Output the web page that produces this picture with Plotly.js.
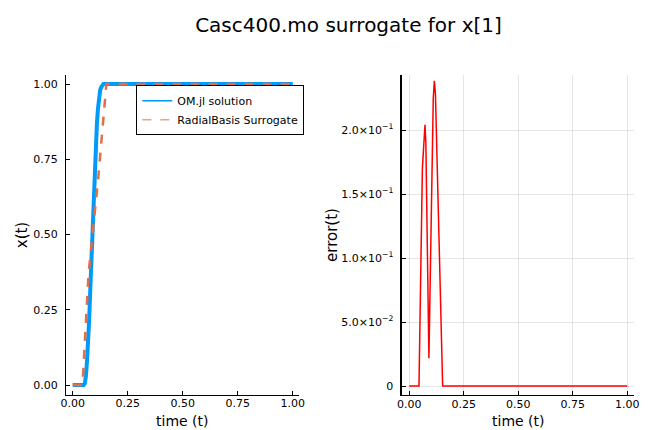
<!DOCTYPE html>
<html>
<head>
<meta charset="utf-8">
<script src="https://cdn.plot.ly/plotly-3.0.1.min.js"></script>
<style>html,body{margin:0;padding:0;background:#fff;}#chart{width:649px;height:430px;}</style>
</head>
<body>
<div id="chart"></div>
<script>
// OM.jl solution x(t)
const solT = [0, 0.05, 0.055, 0.06, 0.065, 0.07, 0.075, 0.08, 0.085, 0.09, 0.095, 0.1, 0.105, 0.11, 0.115, 0.12, 0.125, 0.13, 0.14, 0.2, 0.5, 1.0];
const solX = [0, 0, 0.005, 0.03, 0.08, 0.14, 0.22, 0.32, 0.42, 0.52, 0.62, 0.71, 0.80, 0.87, 0.92, 0.96, 0.98, 0.99, 1.0, 1.0, 1.0, 1.0];
// RadialBasis surrogate
const surT = [0, 0.0445, 0.072, 0.09, 0.115, 0.153, 0.3, 0.6, 1.0];
const surX = [0, 0, 0.37, 0.50, 0.68, 1.0, 1.0, 1.0, 1.0];
// error(t)
const errT = [0, 0.0445, 0.06, 0.068, 0.072, 0.076, 0.09, 0.11, 0.115, 0.12, 0.153, 0.3, 0.6, 1.0];
const errV = [0, 0, 0.17, 0.200, 0.204, 0.19, 0.0216, 0.225, 0.2385, 0.228, 0, 0, 0, 0];

const seriesNames = ["OM.jl solution", "RadialBasis Surrogate"];
const xTitle = "time (t)";
const xTicks = [0, 0.25, 0.5, 0.75, 1.0];
const xTickText = ["0.00", "0.25", "0.50", "0.75", "1.00"];
const yTicksL = [0, 0.25, 0.5, 0.75, 1.0];
const yTickTextL = ["0.00", "0.25", "0.50", "0.75", "1.00"];
const yTicksR = [0, 0.05, 0.10, 0.15, 0.20];
const yTickTextR = ["0", "5.0×10<sup>−2</sup>", "1.0×10<sup>−1</sup>", "1.5×10<sup>−1</sup>", "2.0×10<sup>−1</sup>"];

const FONT = "DejaVu Sans, sans-serif";

const traces = [
  {x: solT, y: solX, type: "scatter", mode: "lines", name: seriesNames[0], showlegend: false,
   line: {color: "#009af9", width: 4}, xaxis: "x", yaxis: "y"},
  {x: surT, y: surX, type: "scatter", mode: "lines", name: seriesNames[1], showlegend: false,
   line: {color: "#e26f46", width: 2.5, dash: "dash"}, xaxis: "x", yaxis: "y"},
  // legend-only entries (thin sample lines as in the reference legend)
  {x: [null], y: [null], type: "scatter", mode: "lines", name: seriesNames[0],
   line: {color: "#009af9", width: 1.5}, xaxis: "x", yaxis: "y"},
  {x: [null], y: [null], type: "scatter", mode: "lines", name: seriesNames[1],
   line: {color: "#f0a080", width: 1.5, dash: "dash"}, xaxis: "x", yaxis: "y"},
  {x: errT, y: errV, type: "scatter", mode: "lines", name: "error",
   line: {color: "#ff0000", width: 1.5}, xaxis: "x2", yaxis: "y2", showlegend: false}
];

const axCommon = {
  showline: true, linecolor: "#000", linewidth: 1, mirror: false,
  ticks: "inside", ticklen: 4, tickcolor: "#000", zeroline: false,
  tickfont: {family: FONT, size: 11, color: "#000"}, automargin: false
};

const layout = {
  width: 649, height: 430,
  margin: {l: 0, r: 0, t: 0, b: 0},
  paper_bgcolor: "#fff", plot_bgcolor: "#fff",
  font: {family: FONT, color: "#000"},
  title: {text: "Casc400.mo surrogate for x[1]", font: {family: FONT, size: 20, color: "#000"},
          x: 0.537, xanchor: "center", y: 0.942, yanchor: "middle", yref: "container", xref: "paper"},
  showlegend: true,
  legend: {x: 0.21, y: 0.802, xanchor: "left", yanchor: "top", bgcolor: "#fff",
           bordercolor: "#000", borderwidth: 1, font: {family: FONT, size: 11, color: "#000"},
           tracegroupgap: 0, itemwidth: 30},
  xaxis: Object.assign({}, axCommon, {domain: [0.1017, 0.4607], range: [-0.0305, 1.0286],
          tickvals: xTicks, ticktext: xTickText, showgrid: false, anchor: "y", ticklabelstandoff: -2}),
  yaxis: Object.assign({}, axCommon, {domain: [0.0814, 0.8256], range: [-0.0332, 1.03],
          tickvals: yTicksL, ticktext: yTickTextL, showgrid: false, anchor: "x", ticklabelstandoff: 5,
          title: {text: "x(t)", font: {family: FONT, size: 15}, standoff: 2}}),
  xaxis2: Object.assign({}, axCommon, {domain: [0.6194, 0.9769], range: [-0.0335, 1.031],
          tickvals: xTicks, ticktext: xTickText, showgrid: true, gridcolor: "rgba(0,0,0,0.1)", gridwidth: 1,
          anchor: "y2", linewidth: 1.5, ticklabelstandoff: -2}),
  yaxis2: Object.assign({}, axCommon, {domain: [0.0814, 0.8256], range: [-0.00703, 0.2430],
          tickvals: yTicksR, ticktext: yTickTextR, showgrid: true, gridcolor: "rgba(0,0,0,0.1)", gridwidth: 1,
          anchor: "x2", linewidth: 1.5, ticklabelstandoff: 5,
          title: {text: "error(t)", font: {family: FONT, size: 15}, standoff: 0}}),
  annotations: [
    {text: xTitle, xref: "paper", yref: "paper", x: 0.2812, y: 0.0, xanchor: "center", yanchor: "bottom",
     borderpad: 0, showarrow: false, font: {family: FONT, size: 14, color: "#000"}},
    {text: xTitle, xref: "paper", yref: "paper", x: 0.7982, y: 0.0, xanchor: "center", yanchor: "bottom",
     borderpad: 0, showarrow: false, font: {family: FONT, size: 14, color: "#000"}}
  ]
};

Plotly.newPlot("chart", traces, layout, {displayModeBar: false, staticPlot: true});
</script>
</body>
</html>
